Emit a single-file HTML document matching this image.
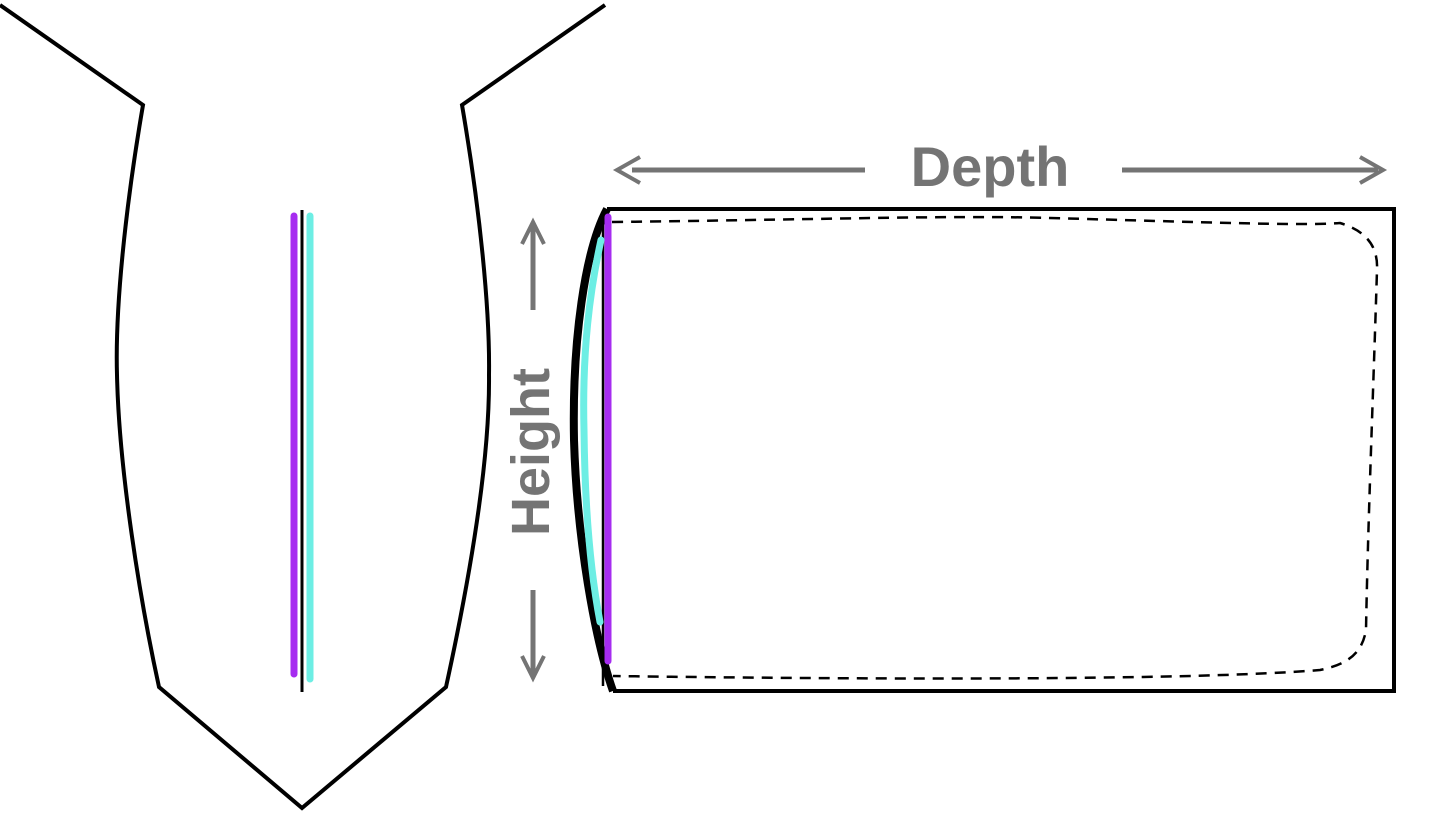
<!DOCTYPE html>
<html><head><meta charset="utf-8"><style>
html,body{margin:0;padding:0;background:#fff;}
svg{display:block;}
text{font-family:"Liberation Sans",sans-serif;font-weight:bold;fill:#747474;}
</style></head><body>
<svg width="1445" height="830" viewBox="0 0 1445 830" xmlns="http://www.w3.org/2000/svg">
<path d="M0,5 L143,105 C125,210 115,310 117,375 C119,470 140,600 159,687 L302,808 L446,687 C465,600 490,470 489,375 C490,310 480,210 462,105 L605,5" fill="none" stroke="#000" stroke-width="4" stroke-linejoin="miter"/>
<line x1="302" y1="210" x2="302" y2="692" stroke="#000" stroke-width="3"/>
<line x1="294" y1="216" x2="294" y2="674" stroke="#a62cf0" stroke-width="7" stroke-linecap="round"/>
<line x1="310" y1="216" x2="310" y2="679" stroke="#6deee4" stroke-width="7" stroke-linecap="round"/>

<line x1="632" y1="170" x2="865" y2="170" stroke="#747474" stroke-width="5"/>
<polyline points="640,157 617,170 640,183" fill="none" stroke="#747474" stroke-width="4"/>
<line x1="1122" y1="170" x2="1378" y2="170" stroke="#747474" stroke-width="5"/>
<polyline points="1360,157 1383,170 1360,183" fill="none" stroke="#747474" stroke-width="4"/>
<text x="990" y="186" font-size="56" text-anchor="middle">Depth</text>

<line x1="533" y1="224" x2="533" y2="310" stroke="#747474" stroke-width="5"/>
<polyline points="522,244 533,222 544,244" fill="none" stroke="#747474" stroke-width="4"/>
<line x1="533" y1="590" x2="533" y2="676" stroke="#747474" stroke-width="5"/>
<polyline points="522,656 533,678 544,656" fill="none" stroke="#747474" stroke-width="4"/>
<text transform="translate(549,452) rotate(-90)" font-size="54" text-anchor="middle">Height</text>

<path d="M607,209 L1394,209 L1394,691 L613,691" fill="none" stroke="#000" stroke-width="4"/>
<path d="M607,209 C585,250 572,340 574,440 C577,540 595,640 613,691" fill="none" stroke="#000" stroke-width="8"/>
<line x1="603" y1="214" x2="603" y2="686" stroke="#000" stroke-width="2.5"/>
<path d="M612,222 C800,220 950,215 1050,218 C1200,222 1300,226 1340,223 C1370,232 1378,250 1377,270 C1373,400 1368,520 1366,630 C1362,655 1345,665 1320,670 C1200,680 900,680 613,676" fill="none" stroke="#000" stroke-width="2.5" stroke-dasharray="11,8"/>
<line x1="608" y1="217" x2="608" y2="661" stroke="#a62cf0" stroke-width="7" stroke-linecap="round"/>
<path d="M601,240 C590,290 582,350 584,430 C585,520 592,580 600,622" fill="none" stroke="#6deee4" stroke-width="7" stroke-linecap="round"/>
</svg>
</body></html>
